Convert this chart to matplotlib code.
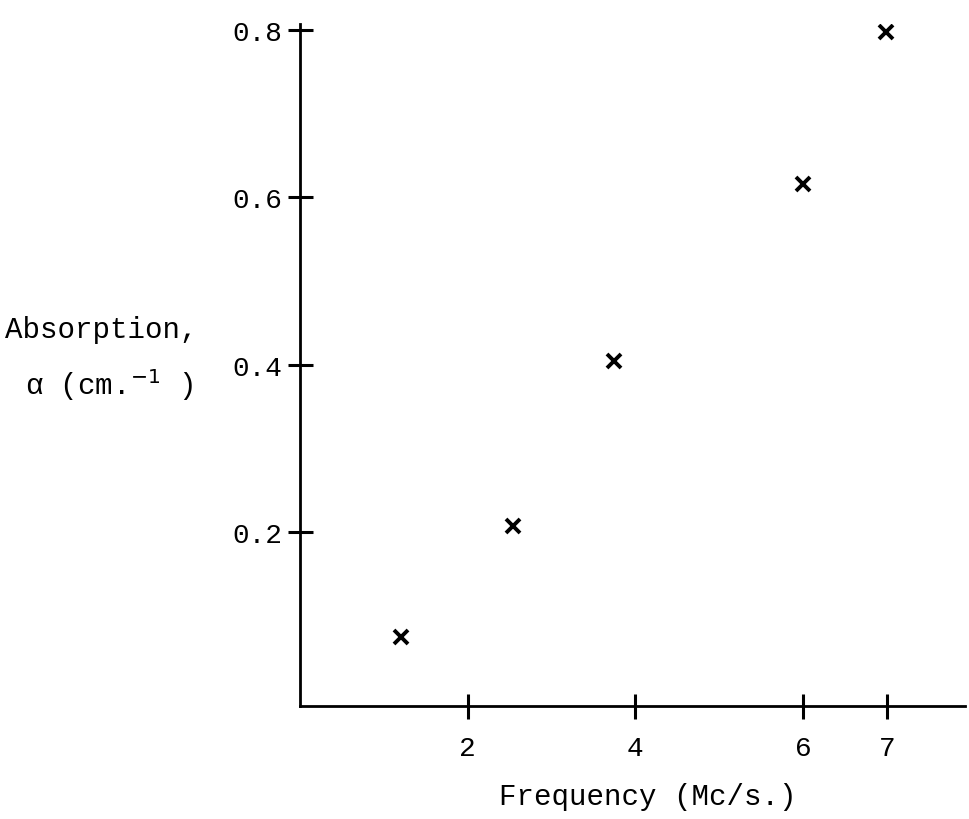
import matplotlib
matplotlib.use("Agg")
from matplotlib import pyplot as plt

# data
freq = [1.2, 2.54, 3.75, 6.0, 6.99]            # Mc/s
alpha = [0.075, 0.207, 0.404, 0.616, 0.798]    # cm^-1

x_ticks = [2, 4, 6, 7]
x_tick_labels = ["2", "4", "6", "7"]
y_ticks = [0.2, 0.4, 0.6, 0.8]
y_tick_labels = ["0.2", "0.4", "0.6", "0.8"]

font = "Liberation Mono"

fig = plt.figure(figsize=(9.7, 8.2), dpi=100)
ax = fig.add_axes([300 / 970, 1 - 707 / 820, 665 / 970, 682 / 820])

ax.plot(freq, alpha, linestyle="none", marker="x", markersize=10,
        markeredgewidth=2.8, color="black")

ax.set_xlim(0, 7.93)
ax.set_ylim(-0.008, 0.807)

ax.spines["top"].set_visible(False)
ax.spines["right"].set_visible(False)
ax.spines["left"].set_linewidth(2.0)
ax.spines["bottom"].set_linewidth(2.0)

ax.set_xticks(x_ticks)
ax.set_xticklabels(x_tick_labels, fontfamily=font, fontsize=20)
ax.set_yticks(y_ticks)
ax.set_yticklabels(y_tick_labels, fontfamily=font, fontsize=20)
ax.tick_params(direction="inout", length=18, width=2.2, pad=12)
ax.tick_params(axis="y", pad=4)

ax.set_xlabel("Frequency (Mc/s.)", fontfamily=font, fontsize=21)
ax.xaxis.set_label_coords(0.523, -0.112)

fig.text(5 / 970, 1 - 330 / 820, "Absorption,", fontfamily=font, fontsize=21,
         va="center", ha="left")
fig.text(25 / 970, 1 - 385 / 820, "\u03b1 (cm.$^{-1}$ )", fontfamily=font,
         fontsize=21, va="center", ha="left")

fig.savefig("out.png", dpi=100, facecolor="white")
